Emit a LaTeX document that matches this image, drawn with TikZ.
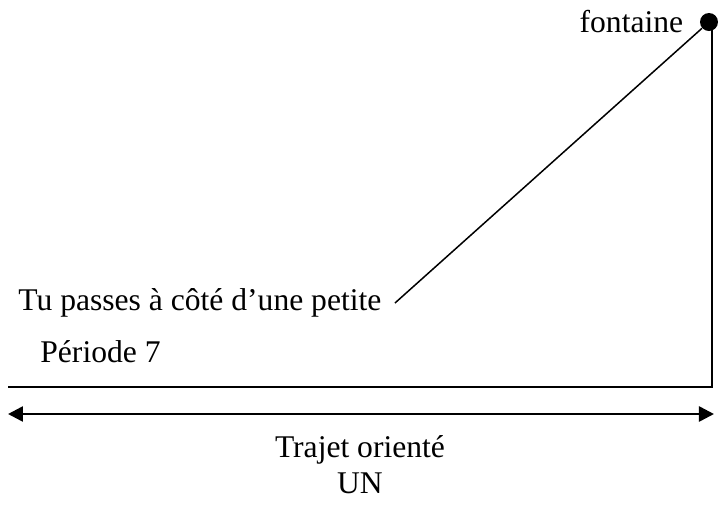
\documentclass[tikz,border=0pt]{standalone}
\usepackage{fontspec}
\setmainfont{Liberation Serif}
\usetikzlibrary{arrows.meta, positioning}

\begin{document}
\begin{tikzpicture}[x=0.5pt, y=-0.5pt,
  txt/.style={inner sep=0pt, font=\fontsize{15.8}{18}\selectfont},
  dot/.style={circle, fill, inner sep=0pt, minimum size=9pt}]
  \useasboundingbox (0,0) rectangle (720,505);
  \node[dot] (fontaine) at (709,22) {};
  \node[txt, left=8pt of fontaine] (fontlbl) {fontaine};
  \node[txt, anchor=west] (petite) at (18,303) {Tu passes à côté d'une petite};
  \node[txt, anchor=west] (periode) at (40,352) {Période 7};
  \coordinate (tail) at (395,303);
  \coordinate (corner) at (712,387);
  \coordinate (start) at (8,387);
  \coordinate (arrowL) at (8,414);
  \coordinate (arrowR) at (714,414);
  \draw[line width=0.75pt] (fontaine) -- (tail);
  \draw[line width=1pt] (fontaine.center -| corner) -- (corner) -- (start);
  \draw[{Triangle[length=7.5pt,width=7.5pt]}-{Triangle[length=7.5pt,width=7.5pt]}, line width=1.3pt] (arrowL) -- (arrowR);
  \node[txt, align=center] (trajet) at (360,465) {Trajet orienté\\UN};
\end{tikzpicture}
\end{document}
